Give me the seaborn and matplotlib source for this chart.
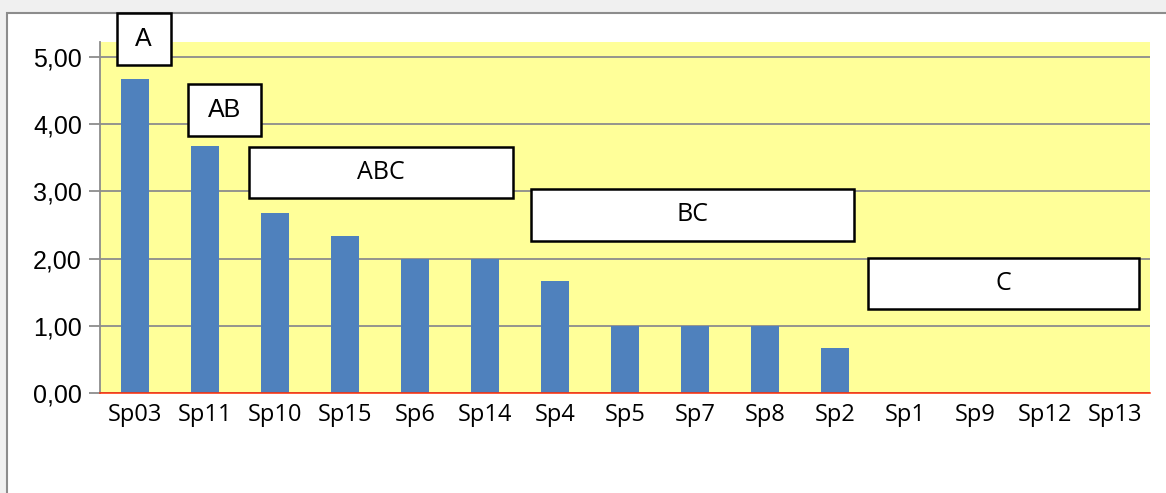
import matplotlib
matplotlib.use("Agg")
import matplotlib.pyplot as plt
from matplotlib.patches import Rectangle
import seaborn as sns
import pandas as pd

# data
species = ["Sp03", "Sp11", "Sp10", "Sp15", "Sp6", "Sp14", "Sp4", "Sp5",
           "Sp7", "Sp8", "Sp2", "Sp1", "Sp9", "Sp12", "Sp13"]
means = [4.67, 3.67, 2.67, 2.33, 2.00, 2.00, 1.67, 1.00,
         1.00, 1.00, 0.67, 0.0, 0.0, 0.0, 0.0]
yticks = [0, 1, 2, 3, 4, 5]

# letter groups: label, box left/right (category units), box bottom/top (value units)
groups = ["A", "AB", "ABC", "BC", "C"]
group_x0 = [-0.26, 0.76, 1.63, 5.66, 10.47]
group_x1 = [0.51, 1.80, 5.40, 10.27, 14.34]
group_y0 = [4.88, 3.82, 2.90, 2.26, 1.25]
group_y1 = [5.65, 4.60, 3.66, 3.04, 2.01]
group_font = ["Liberation Sans", "Liberation Sans", "Open Sans", "Open Sans", "Open Sans"]

df = pd.DataFrame({"species": species, "mean": means})

sns.set_style("white")
plt.rcParams['font.family'] = ['Liberation Sans', 'DejaVu Sans']
plt.rcParams['text.color'] = 'black'

W, H = 1166, 493
fig = plt.figure(figsize=(W / 100, H / 100), dpi=100)
fig.patch.set_facecolor("#f0f0f0")
fig.patches.append(Rectangle((7 / W, -0.1), 1.2, (H - 13) / H + 0.1,
                             transform=fig.transFigure, facecolor="white",
                             edgecolor="#8c8c8c", linewidth=1.5, zorder=-5))

ax = fig.add_axes([100 / W, (H - 393) / H, 1050 / W, 351 / H])
ax.set_zorder(2)
ax.set_facecolor("#ffff99")

sns.barplot(data=df, x="species", y="mean", color="#4f81bd", saturation=1,
            width=0.4, ax=ax, zorder=3, linewidth=0, edgecolor="none")

ax.set_ylim(0, 5.22)
ax.set_xlim(-0.5, len(species) - 0.5)
ax.set_yticks(yticks)
ax.set_yticklabels([f"{v:.2f}".replace(".", ",") for v in yticks],
                   fontsize=18, color="black", family="Liberation Sans")
ax.yaxis.grid(True, color="#8c8c8c", linewidth=1.3, zorder=1)
ax.set_axisbelow(True)
ax.tick_params(axis="y", length=8, color="#8c8c8c", width=1.3, pad=5, left=True,
               labelcolor="black")
ax.tick_params(axis="x", length=0, pad=7, labelcolor="black")
for lab in ax.get_xticklabels():
    lab.set_fontfamily("Open Sans")
    lab.set_fontsize(17)
ax.set_xlabel("")
ax.set_ylabel("")
for s in ["top", "right"]:
    ax.spines[s].set_visible(False)
ax.spines["left"].set_color("#8c8c8c")
ax.spines["left"].set_linewidth(1.3)
ax.spines["bottom"].set_color("#ff2a00")
ax.spines["bottom"].set_linewidth(1.1)
ax.spines["bottom"].set_zorder(4)

for g, x0, x1, y0, y1, fnt in zip(groups, group_x0, group_x1, group_y0, group_y1, group_font):
    ax.add_patch(Rectangle((x0, y0), x1 - x0, y1 - y0, facecolor="white",
                           edgecolor="black", linewidth=1.8, zorder=5, clip_on=False))
    ax.text((x0 + x1) / 2, (y0 + y1) / 2, g, ha="center", va="center",
            fontsize=18, family=fnt, zorder=6, clip_on=False)

fig.savefig("out.png", dpi=100, facecolor=fig.get_facecolor())
